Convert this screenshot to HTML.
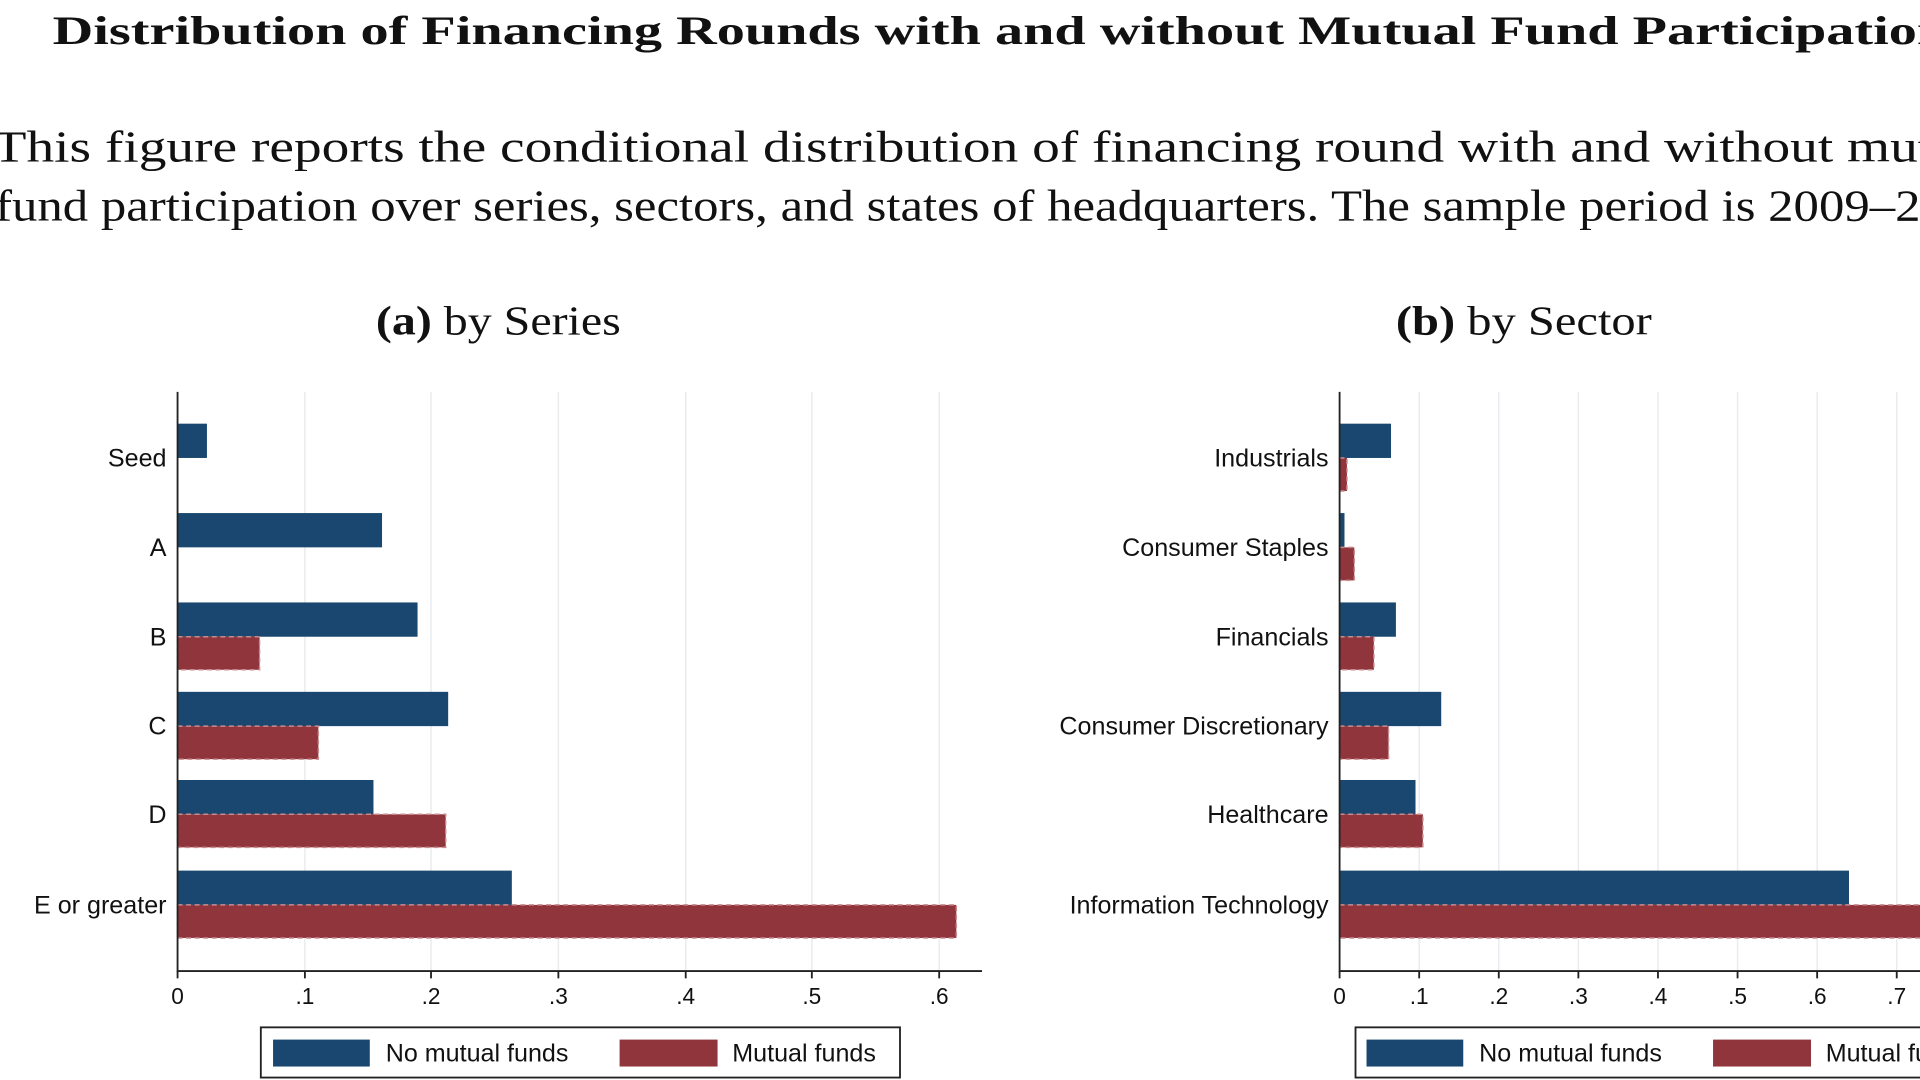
<!DOCTYPE html>
<html><head><meta charset="utf-8"><style>html,body{margin:0;padding:0;background:#fff;overflow:hidden}svg{display:block}</style></head>
<body>
<svg width="1920" height="1080" viewBox="0 0 1568 882" preserveAspectRatio="none" xmlns="http://www.w3.org/2000/svg">
<rect width="1568" height="882" fill="#fff"/>
<g font-family="'Liberation Serif', serif" fill="#111">
<text x="43" y="36" font-size="33" font-weight="bold" textLength="1548" lengthAdjust="spacingAndGlyphs">Distribution of Financing Rounds with and without Mutual Fund Participation</text>
<text x="-6" y="132" font-size="36" textLength="1640" lengthAdjust="spacingAndGlyphs">This figure reports the conditional distribution of financing round with and without mutual</text>
<text x="-4" y="180" font-size="36" textLength="1645" lengthAdjust="spacingAndGlyphs">fund participation over series, sectors, and states of headquarters. The sample period is 2009–2019.</text>
<text x="307" y="273" font-size="34" textLength="200" lengthAdjust="spacingAndGlyphs"><tspan font-weight="bold">(a)</tspan> by Series</text>
<text x="1140" y="273" font-size="34" textLength="209" lengthAdjust="spacingAndGlyphs"><tspan font-weight="bold">(b)</tspan> by Sector</text>
</g>
<g font-family="'Liberation Sans', sans-serif" font-size="20.5" fill="#111">
<!-- chart a -->
<g stroke="#e8ecef" stroke-width="1.2">
<line x1="249" y1="320" x2="249" y2="793"/><line x1="352" y1="320" x2="352" y2="793"/><line x1="456" y1="320" x2="456" y2="793"/><line x1="560" y1="320" x2="560" y2="793"/><line x1="663" y1="320" x2="663" y2="793"/><line x1="767" y1="320" x2="767" y2="793"/>
</g>
<g fill="#1a476f">
<rect x="145" y="346" width="24" height="28"/><rect x="145" y="419" width="167" height="28"/><rect x="145" y="492" width="196" height="28"/><rect x="145" y="565" width="221" height="28"/><rect x="145" y="637" width="160" height="28"/><rect x="145" y="711" width="273" height="28"/>
</g>
<g fill="#90353b" stroke="#c98a8e" stroke-width="1.2" stroke-dasharray="4,3">
<rect x="145" y="520" width="67" height="27"/><rect x="145" y="593" width="115" height="27"/><rect x="145" y="665" width="219" height="27"/><rect x="145" y="739" width="636" height="27"/>
</g>
<g stroke="#222" stroke-width="1.5"><line x1="145" y1="320" x2="145" y2="794"/><line x1="145" y1="793" x2="802" y2="793"/>
<line x1="145" y1="793" x2="145" y2="799"/><line x1="249" y1="793" x2="249" y2="799"/><line x1="352" y1="793" x2="352" y2="799"/><line x1="456" y1="793" x2="456" y2="799"/><line x1="560" y1="793" x2="560" y2="799"/><line x1="663" y1="793" x2="663" y2="799"/><line x1="767" y1="793" x2="767" y2="799"/></g>
<g text-anchor="middle" font-size="18.5"><text x="145" y="820">0</text><text x="249" y="820">.1</text><text x="352" y="820">.2</text><text x="456" y="820">.3</text><text x="560" y="820">.4</text><text x="663" y="820">.5</text><text x="767" y="820">.6</text></g>
<g text-anchor="end"><text x="136" y="381">Seed</text><text x="136" y="454">A</text><text x="136" y="527">B</text><text x="136" y="600">C</text><text x="136" y="672">D</text><text x="136" y="746">E or greater</text></g>
<rect x="213" y="839" width="522" height="41" fill="none" stroke="#222" stroke-width="1.5"/>
<rect x="223" y="849" width="79" height="22" fill="#1a476f"/><text x="315" y="867">No mutual funds</text>
<rect x="506" y="849" width="80" height="22" fill="#90353b"/><text x="598" y="867">Mutual funds</text>
<!-- chart b -->
<g stroke="#e8ecef" stroke-width="1.2">
<line x1="1159" y1="320" x2="1159" y2="793"/><line x1="1224" y1="320" x2="1224" y2="793"/><line x1="1289" y1="320" x2="1289" y2="793"/><line x1="1354" y1="320" x2="1354" y2="793"/><line x1="1419" y1="320" x2="1419" y2="793"/><line x1="1484" y1="320" x2="1484" y2="793"/><line x1="1549" y1="320" x2="1549" y2="793"/>
</g>
<g fill="#1a476f">
<rect x="1094" y="346" width="42" height="28"/><rect x="1094" y="419" width="4" height="28"/><rect x="1094" y="492" width="46" height="28"/><rect x="1094" y="565" width="83" height="28"/><rect x="1094" y="637" width="62" height="28"/><rect x="1094" y="711" width="416" height="28"/>
</g>
<g fill="#90353b" stroke="#c98a8e" stroke-width="1.2" stroke-dasharray="4,3">
<rect x="1094" y="374" width="6" height="27"/><rect x="1094" y="447" width="12" height="27"/><rect x="1094" y="520" width="28" height="27"/><rect x="1094" y="593" width="40" height="27"/><rect x="1094" y="665" width="68" height="27"/><rect x="1094" y="739" width="500" height="27"/>
</g>
<g stroke="#222" stroke-width="1.5"><line x1="1094" y1="320" x2="1094" y2="794"/><line x1="1094" y1="793" x2="1568" y2="793"/>
<line x1="1094" y1="793" x2="1094" y2="799"/><line x1="1159" y1="793" x2="1159" y2="799"/><line x1="1224" y1="793" x2="1224" y2="799"/><line x1="1289" y1="793" x2="1289" y2="799"/><line x1="1354" y1="793" x2="1354" y2="799"/><line x1="1419" y1="793" x2="1419" y2="799"/><line x1="1484" y1="793" x2="1484" y2="799"/><line x1="1549" y1="793" x2="1549" y2="799"/></g>
<g text-anchor="middle" font-size="18.5"><text x="1094" y="820">0</text><text x="1159" y="820">.1</text><text x="1224" y="820">.2</text><text x="1289" y="820">.3</text><text x="1354" y="820">.4</text><text x="1419" y="820">.5</text><text x="1484" y="820">.6</text><text x="1549" y="820">.7</text></g>
<g text-anchor="end"><text x="1085" y="381">Industrials</text><text x="1085" y="454">Consumer Staples</text><text x="1085" y="527">Financials</text><text x="1085" y="600">Consumer Discretionary</text><text x="1085" y="672">Healthcare</text><text x="1085" y="746">Information Technology</text></g>
<rect x="1107" y="839" width="520" height="41" fill="none" stroke="#222" stroke-width="1.5"/>
<rect x="1116" y="849" width="79" height="22" fill="#1a476f"/><text x="1208" y="867">No mutual funds</text>
<rect x="1399" y="849" width="80" height="22" fill="#90353b"/><text x="1491" y="867">Mutual funds</text>
</g>
</svg>
</body></html>
